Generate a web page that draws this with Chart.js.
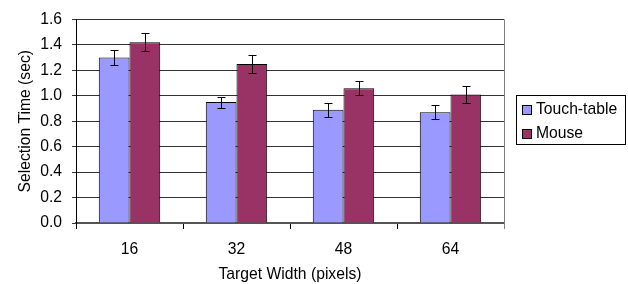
<!DOCTYPE html>
<html>
<head>
<meta charset="utf-8">
<script src="https://cdn.jsdelivr.net/npm/chart.js@4/dist/chart.umd.min.js"></script>
<style>
html,body{margin:0;padding:0;background:#fff;}
#wrap{width:628px;height:284px;position:relative;}
</style>
</head>
<body>
<div id="wrap"><canvas id="c" width="628" height="284"></canvas></div>
<script>
const categories = ['16', '32', '48', '64'];
const touchTable = [1.30, 0.95, 0.89, 0.87];
const mouse = [1.42, 1.25, 1.06, 1.01];
const touchErr = [0.056, 0.043, 0.057, 0.055];
const mouseErr = [0.070, 0.074, 0.054, 0.064];
const seriesNames = ['Touch-table', 'Mouse'];
const yTicks = [0, 0.2, 0.4, 0.6, 0.8, 1.0, 1.2, 1.4, 1.6];

const FONT = 'Liberation Sans, Arial, sans-serif';
const FS = 15.7;

const errorBars = {
  id: 'errorBars',
  afterDatasetsDraw(chart) {
    const ctx = chart.ctx;
    const y = chart.scales.y;
    const errs = [touchErr, mouseErr];
    ctx.save();
    ctx.strokeStyle = '#000';
    ctx.lineWidth = 1;
    chart.data.datasets.forEach((ds, i) => {
      const meta = chart.getDatasetMeta(i);
      meta.data.forEach((bar, j) => {
        const v = ds.data[j], e = errs[i][j];
        const x = Math.round(bar.x) + 0.5;
        const yt = Math.round(y.getPixelForValue(v + e)) + 0.5;
        const yb = Math.round(y.getPixelForValue(v - e)) + 0.5;
        ctx.beginPath();
        ctx.moveTo(x, yt); ctx.lineTo(x, yb);
        ctx.moveTo(x - 4, yt); ctx.lineTo(x + 4, yt);
        ctx.moveTo(x - 4, yb); ctx.lineTo(x + 4, yb);
        ctx.stroke();
      });
    });
    ctx.restore();
  }
};

const frameAndLegend = {
  id: 'frameAndLegend',
  afterDraw(chart) {
    const ctx = chart.ctx;
    const a = chart.chartArea;
    ctx.save();
    ctx.strokeStyle = '#808080';
    ctx.lineWidth = 1;
    ctx.beginPath();
    ctx.moveTo(Math.round(a.right) + 0.5, a.top);
    ctx.lineTo(Math.round(a.right) + 0.5, a.bottom + 6);
    ctx.stroke();
    const lx = 516, ly = 95, lw = 109, lh = 49;
    ctx.strokeStyle = '#000';
    ctx.strokeRect(lx + 0.5, ly + 0.5, lw, lh);
    ctx.font = FS + 'px ' + FONT;
    ctx.textBaseline = 'middle';
    chart.data.datasets.forEach((ds, i) => {
      const cy = ly + 14 + i * 24;
      ctx.fillStyle = ds.backgroundColor;
      ctx.fillRect(522, cy - 4, 9, 9);
      ctx.strokeStyle = '#000';
      ctx.strokeRect(522.5, cy - 4 + 0.5, 9, 9);
      ctx.fillStyle = '#000';
      ctx.fillText(ds.label, 536, cy + 1);
    });
    ctx.restore();
  }
};

new Chart(document.getElementById('c'), {
  type: 'bar',
  data: {
    labels: categories,
    datasets: [
      { label: seriesNames[0], data: touchTable, backgroundColor: '#9999FF', borderColor: '#000', borderWidth: 1 },
      { label: seriesNames[1], data: mouse, backgroundColor: '#993366', borderColor: '#000', borderWidth: 1 }
    ]
  },
  options: {
    responsive: false,
    animation: false,
    devicePixelRatio: 1,
    layout: { padding: { top: 16, right: 124, left: 0, bottom: 0 } },
    plugins: { legend: { display: false }, tooltip: { enabled: false } },
    datasets: { bar: { barPercentage: 1.0, categoryPercentage: 0.574 } },
    scales: {
      x: {
        afterFit(s) { s.height = 61; },
        grid: { display: true, drawOnChartArea: false, drawTicks: true, tickLength: 6, color: '#000', offset: true },
        border: { display: true, color: '#555', width: 2 },
        ticks: { color: '#000', font: { family: FONT, size: FS }, padding: 11 },
        title: { display: true, text: 'Target Width (pixels)', color: '#000', font: { family: FONT, size: FS }, padding: { top: 0, bottom: 0 } }
      },
      y: {
        min: 0, max: 1.6,
        afterFit(s) { s.width = 76; },
        afterBuildTicks(s) { s.ticks = yTicks.map(v => ({ value: v })); },
        grid: { color: '#333', tickLength: 4, drawTicks: true },
        border: { display: true, color: '#000', width: 1 },
        ticks: { color: '#000', font: { family: FONT, size: FS }, padding: 10, callback: v => Number(v).toFixed(1) },
        title: { display: true, text: 'Selection Time (sec)', color: '#000', font: { family: FONT, size: FS }, padding: { top: 16, bottom: 0 } }
      }
    }
  },
  plugins: [errorBars, frameAndLegend]
});
</script>
</body>
</html>
